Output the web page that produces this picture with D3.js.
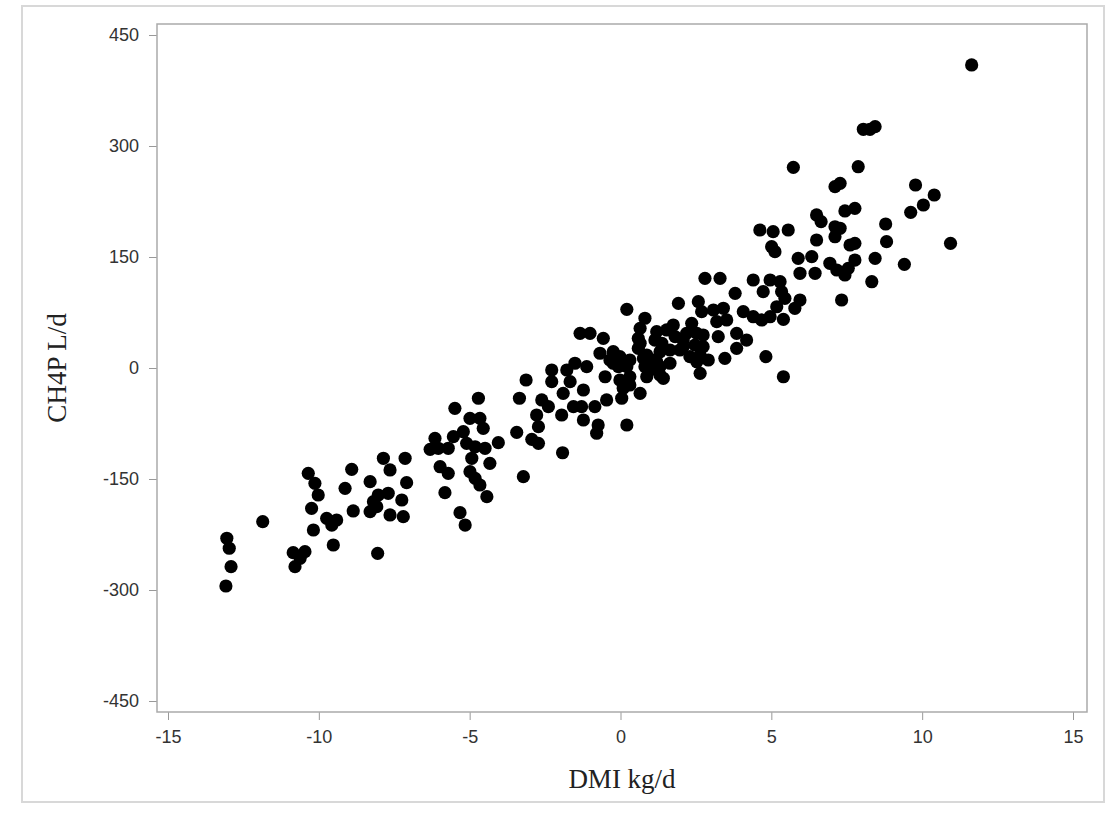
<!DOCTYPE html>
<html lang="en">
<head>
<meta charset="utf-8">
<title>CH4P vs DMI</title>
<script src="https://d3js.org/d3.v7.min.js"></script>
<style>
  body { margin: 0; background: #fff; }
  .tick text { font-family: "Liberation Sans", Arial, sans-serif; font-size: 18px; fill: #333; }
  .tick line { stroke: #999; }
  .domain { display: none; }
  .title { font-family: "Liberation Serif", "Times New Roman", serif; font-size: 27px; fill: #222; }
</style>
</head>
<body>
<script>
// values
const xTicks = [-15, -10, -5, 0, 5, 10, 15]
const yTicks = [-450, -300, -150, 0, 150, 300, 450]

const dmi = [
  -13.05, -12.97, -12.91, -13.08, -11.86, -10.85, -10.46, -10.62, -10.79, -10.35,
  -10.13, -10.02, -10.24, -10.18, -9.74, -9.41, -9.57, -9.52, -8.91, -9.13,
  -8.86, -8.30, -8.30, -8.19, -8.03, -7.70, -8.08, -7.86, -7.64, -7.14,
  -7.09, -7.25, -7.64, -7.20, -8.05, -6.31, -6.15, -5.98, -5.71, -5.82,
  -5.32, -5.15, -6.04, -5.71, -5.54, -5.21, -5.49, -4.71, -4.99, -4.66,
  -4.55, -5.10, -4.82, -4.49, -4.05, -4.93, -4.99, -4.82, -4.66, -4.33,
  -4.43, -3.22, -3.44, -2.94, -2.72, -2.72, -2.78, -2.61, -2.39, -3.35,
  -3.13, -1.92, -1.95, -2.28, -2.28, -1.90, -1.78, -1.51, -1.12, -1.67,
  -1.23, -1.56, -1.29, -1.23, -0.74, -0.79, -0.85, -0.46, -0.68, -0.51,
  -0.24, -1.34, -1.01, -0.57, 0.21, 0.81, 0.65, -0.24, -0.02, -0.07,
  0.21, -0.02, 0.31, 0.09, 0.31, 0.65, 0.04, 0.21, 0.59, 0.59,
  0.76, 0.98, 0.87, 1.14, 1.31, 1.20, 1.42, 1.53, 1.75, 1.81,
  1.64, 1.64, 1.97, 2.08, 2.19, 2.36, 2.30, 2.64, 2.47, 2.74,
  2.74, 2.91, 2.64, 3.46, 1.92, 2.80, 3.30, 2.58, 2.69, 3.08,
  3.41, 3.19, 3.52, 3.24, 3.80, 3.85, 3.85, -0.35, 4.18, 4.07,
  4.40, 4.68, 4.96, 5.40, 5.18, 5.45, 5.95, 5.78, 4.40, 4.73,
  4.96, 5.29, 5.34, 4.82, 5.40, 5.89, 5.95, 6.34, 6.45, 5.01,
  5.12, 4.62, 5.06, 5.56, 6.50, 6.94, 7.17, 7.44, 7.55, 7.77,
  7.61, 7.77, 7.11, 7.33, 8.44, 8.33, 8.82, 11.64, 8.05, 8.27,
  8.44, 5.73, 7.88, 7.11, 7.28, 9.78, 10.40, 10.04, 9.62, 7.44,
  7.77, 6.50, 6.65, 7.11, 7.28, 8.79, 10.94, 9.41, 0.31, 0.65,
  0.87, 0.81, 1.09, 1.31, 1.31, 1.20, 1.37, 2.08, 2.53, 2.53
]

const ch4p = [
  -230.1, -243.6, -268.5, -294.6, -207.7, -249.6, -248.2, -257.2, -268.5, -142.3,
  -155.8, -171.6, -189.6, -218.9, -203.1, -205.4, -212.2, -239.2, -136.9, -162.6,
  -193.2, -153.6, -194.2, -180.7, -171.6, -169.3, -187.4, -122.0, -137.8, -122.0,
  -155.0, -178.4, -198.6, -200.9, -250.4, -109.9, -95.0, -133.4, -142.3, -168.5,
  -195.5, -212.2, -108.5, -108.5, -92.8, -86.1, -54.5, -40.9, -68.0, -68.0,
  -81.5, -101.8, -106.4, -108.5, -100.9, -122.0, -140.1, -149.1, -158.1, -128.8,
  -173.9, -146.9, -86.9, -96.4, -101.8, -79.3, -63.5, -43.2, -52.3, -40.9,
  -16.2, -114.5, -63.5, -2.7, -18.5, -34.2, -2.7, 6.4, 1.8, -18.5,
  -29.7, -52.3, -52.3, -70.3, -77.0, -88.2, -52.3, -43.2, 19.9, -11.8,
  6.4, 46.9, 46.9, 40.1, 79.3, 67.2, 53.6, 22.0, 15.3, 1.8,
  1.8, -16.2, -11.8, -27.4, -23.0, -34.2, -40.9, -77.0, 40.1, 26.6,
  13.1, -2.7, -11.8, 37.8, 22.0, 8.5, -13.9, 51.4, 58.1, 42.3,
  24.3, 6.4, 24.3, 37.8, 46.9, 60.4, 15.3, 17.6, 31.1, 44.6,
  28.8, 10.8, -7.2, 13.1, 87.4, 121.2, 121.2, 89.6, 76.1, 78.4,
  80.7, 62.6, 64.9, 42.3, 100.9, 46.9, 26.6, 10.8, 37.8, 76.1,
  69.3, 64.9, 69.3, 65.8, 82.8, 94.2, 91.9, 80.7, 118.9, 103.1,
  118.9, 116.6, 103.1, 15.3, -11.8, 148.2, 128.0, 150.4, 128.0, 163.9,
  157.2, 186.5, 184.2, 186.5, 173.0, 141.5, 132.4, 125.7, 134.7, 145.9,
  166.2, 168.5, 177.4, 91.9, 148.2, 116.6, 170.7, 409.5, 322.6, 322.6,
  326.1, 271.2, 272.0, 245.0, 249.6, 247.3, 233.8, 220.3, 210.4, 212.2,
  215.8, 206.8, 197.7, 190.9, 188.8, 194.6, 168.5, 140.1, 10.8, 33.4,
  17.6, 1.8, 10.8, 1.8, -9.5, 49.1, 33.4, 28.8, 46.9, 8.5
]

const W = 1112, H = 813
const plot = { left: 157, top: 24, right: 1087, bottom: 712 }

const svg = d3.select('body').append('svg')
  .attr('width', W)
  .attr('height', H)

// outer border
svg.append('rect')
  .attr('x', 22).attr('y', 6)
  .attr('width', 1082).attr('height', 796)
  .attr('fill', 'none')
  .attr('stroke', '#d8d8d8')
  .attr('stroke-width', 2)

const x = d3.scaleLinear().domain([-15, 15]).range([168, 1073])
const y = d3.scaleLinear().domain([-450, 450]).range([701, 35])

// plain hyphen for negatives, like the original
const fmt = d => String(d)

svg.append('g')
  .attr('transform', `translate(0,${plot.bottom})`)
  .call(d3.axisBottom(x).tickValues(xTicks).tickFormat(fmt).tickSize(8).tickPadding(10))

svg.append('g')
  .attr('transform', `translate(${plot.left},0)`)
  .call(d3.axisLeft(y).tickValues(yTicks).tickFormat(fmt).tickSize(8).tickPadding(10))

// plot frame
svg.append('rect')
  .attr('x', plot.left).attr('y', plot.top)
  .attr('width', plot.right - plot.left).attr('height', plot.bottom - plot.top)
  .attr('fill', 'none')
  .attr('stroke', '#aaa')
  .attr('stroke-width', 1.5)

svg.append('g')
  .selectAll('circle')
  .data(dmi.map((d, i) => [d, ch4p[i]]))
  .enter()
  .append('circle')
  .attr('cx', d => x(d[0]))
  .attr('cy', d => y(d[1]))
  .attr('r', 6.6)
  .attr('fill', '#000')

svg.append('text')
  .attr('class', 'title')
  .attr('x', (plot.left + plot.right) / 2)
  .attr('y', 788)
  .attr('text-anchor', 'middle')
  .text('DMI kg/d')

svg.append('text')
  .attr('class', 'title')
  .attr('transform', `translate(66,${(plot.top + plot.bottom) / 2}) rotate(-90)`)
  .attr('text-anchor', 'middle')
  .text('CH4P L/d')
</script>
</body>
</html>
